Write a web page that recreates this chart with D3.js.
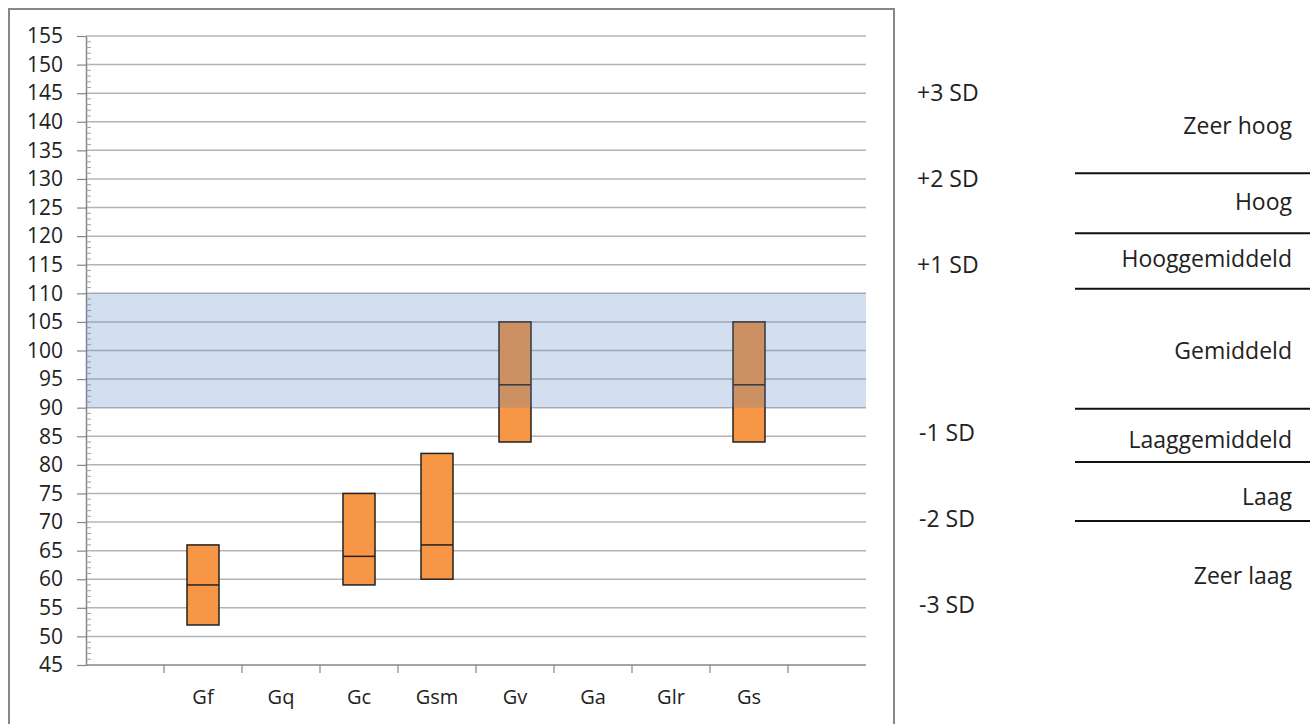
<!DOCTYPE html>
<html>
<head>
<meta charset="utf-8">
<script src="https://cdn.jsdelivr.net/npm/d3@7"></script>
<style>
  body { margin: 0; background: #fff; }
  svg text { font-family: "Open Sans", sans-serif; fill: #222; }
</style>
</head>
<body>
<svg id="chart"></svg>
<script>
// scores per subtest
const categories = ["Gf", "Gq", "Gc", "Gsm", "Gv", "Ga", "Glr", "Gs"];
const low = [52, null, 59, 60, 84, null, null, 84];
const median = [59, null, 64, 66, 94, null, null, 94];
const high = [66, null, 75, 82, 105, null, null, 105];

// average band
const bandRange = [90, 110];

// right side annotations
const sdLabels = ["+3 SD", "+2 SD", "+1 SD", "-1 SD", "-2 SD", "-3 SD"];
const sdValues = [145, 130, 115, 85.5, 70.5, 55.5];
const classLabels = ["Zeer hoog", "Hoog", "Hooggemiddeld", "Gemiddeld", "Laaggemiddeld", "Laag", "Zeer laag"];
const classValues = [139.3, 126, 116, 100, 84.3, 74.4, 60.6];
const classLines = [131, 120.5, 110.8, 89.8, 80.5, 70.2];

const width = 1316, height = 724;
const margin = {top: 36, right: 450, bottom: 59, left: 86};

const svg = d3.select("#chart")
  .attr("width", width)
  .attr("height", height);

// outer chart frame
svg.append("rect")
  .attr("x", 9).attr("y", 9)
  .attr("width", 885).attr("height", 740)
  .attr("fill", "none")
  .attr("stroke", "#868686")
  .attr("stroke-width", 2);

const y = d3.scaleLinear()
  .domain([45, 155])
  .range([665, margin.top]);

const slots = ["_l", ...categories, "_r"];
const x = d3.scaleBand()
  .domain(slots)
  .range([margin.left, 866]);

// gridlines
svg.append("g")
  .selectAll("line")
  .data(d3.range(50, 156, 5))
  .enter().append("line")
  .attr("x1", margin.left).attr("x2", 866)
  .attr("y1", d => y(d)).attr("y2", d => y(d))
  .attr("stroke", "#b4b4b4")
  .attr("stroke-width", 1.5);

// y axis, major ticks outside, minor ticks inside
svg.append("g")
  .attr("transform", `translate(${margin.left},0)`)
  .call(d3.axisLeft(y).tickValues(d3.range(45, 156, 5)).tickSizeInner(9).tickSizeOuter(0).tickPadding(14))
  .call(g => g.select(".domain").attr("stroke", "#868686").attr("stroke-width", 1.5))
  .call(g => g.selectAll(".tick line").attr("stroke", "#868686").attr("stroke-width", 1.2))
  .call(g => g.selectAll("text").attr("font-size", 21).attr("fill", "#222"));

svg.append("g")
  .selectAll("line")
  .data(d3.range(45, 156, 1).filter(d => d % 5 !== 0))
  .enter().append("line")
  .attr("x1", margin.left).attr("x2", margin.left + 5)
  .attr("y1", d => y(d)).attr("y2", d => y(d))
  .attr("stroke", "#a0a0a0")
  .attr("stroke-width", 1);

// x axis
const xg = svg.append("g");
xg.append("line")
  .attr("x1", margin.left).attr("x2", 866)
  .attr("y1", y(45)).attr("y2", y(45))
  .attr("stroke", "#868686").attr("stroke-width", 1.5);
xg.selectAll("line.tick")
  .data(slots.slice(1))
  .enter().append("line")
  .attr("class", "tick")
  .attr("x1", d => x(d)).attr("x2", d => x(d))
  .attr("y1", y(45)).attr("y2", y(45) + 8)
  .attr("stroke", "#868686").attr("stroke-width", 1.2);
xg.selectAll("text")
  .data(categories)
  .enter().append("text")
  .attr("x", d => x(d) + x.bandwidth() / 2)
  .attr("y", 697)
  .attr("dy", "0.35em")
  .attr("text-anchor", "middle")
  .attr("font-size", 20)
  .text(d => d);

// bars
const boxes = categories.map((c, i) => ({c, lo: low[i], md: median[i], hi: high[i]}))
  .filter(d => d.lo != null);
const bw = 32;
const bars = svg.append("g");
bars.selectAll("rect")
  .data(boxes)
  .enter().append("rect")
  .attr("x", d => x(d.c) + x.bandwidth() / 2 - bw / 2)
  .attr("width", bw)
  .attr("y", d => y(d.hi))
  .attr("height", d => y(d.lo) - y(d.hi))
  .attr("fill", "#f79646")
  .attr("stroke", "#222")
  .attr("stroke-width", 1.5);
bars.selectAll("line")
  .data(boxes)
  .enter().append("line")
  .attr("x1", d => x(d.c) + x.bandwidth() / 2 - bw / 2)
  .attr("x2", d => x(d.c) + x.bandwidth() / 2 + bw / 2)
  .attr("y1", d => y(d.md)).attr("y2", d => y(d.md))
  .attr("stroke", "#222")
  .attr("stroke-width", 1.5);

// average band on top
svg.append("rect")
  .attr("x", margin.left)
  .attr("width", 866 - margin.left)
  .attr("y", y(bandRange[1]))
  .attr("height", y(bandRange[0]) - y(bandRange[1]))
  .attr("fill", "#4f81bd")
  .attr("fill-opacity", 0.25);

// SD labels
svg.append("g")
  .selectAll("text")
  .data(sdLabels)
  .enter().append("text")
  .attr("x", (d, i) => d[0] === "+" ? 917 : 919)
  .attr("y", (d, i) => y(sdValues[i]))
  .attr("dy", "0.35em")
  .attr("font-size", 23)
  .text(d => d);

// classification lines and labels
svg.append("g")
  .selectAll("line")
  .data(classLines)
  .enter().append("line")
  .attr("x1", 1075).attr("x2", 1310)
  .attr("y1", d => y(d)).attr("y2", d => y(d))
  .attr("stroke", "#111")
  .attr("stroke-width", 2);

svg.append("g")
  .selectAll("text")
  .data(classLabels)
  .enter().append("text")
  .attr("x", 1292)
  .attr("y", (d, i) => y(classValues[i]))
  .attr("dy", "0.35em")
  .attr("text-anchor", "end")
  .attr("font-size", 23)
  .text(d => d);
</script>
</body>
</html>
